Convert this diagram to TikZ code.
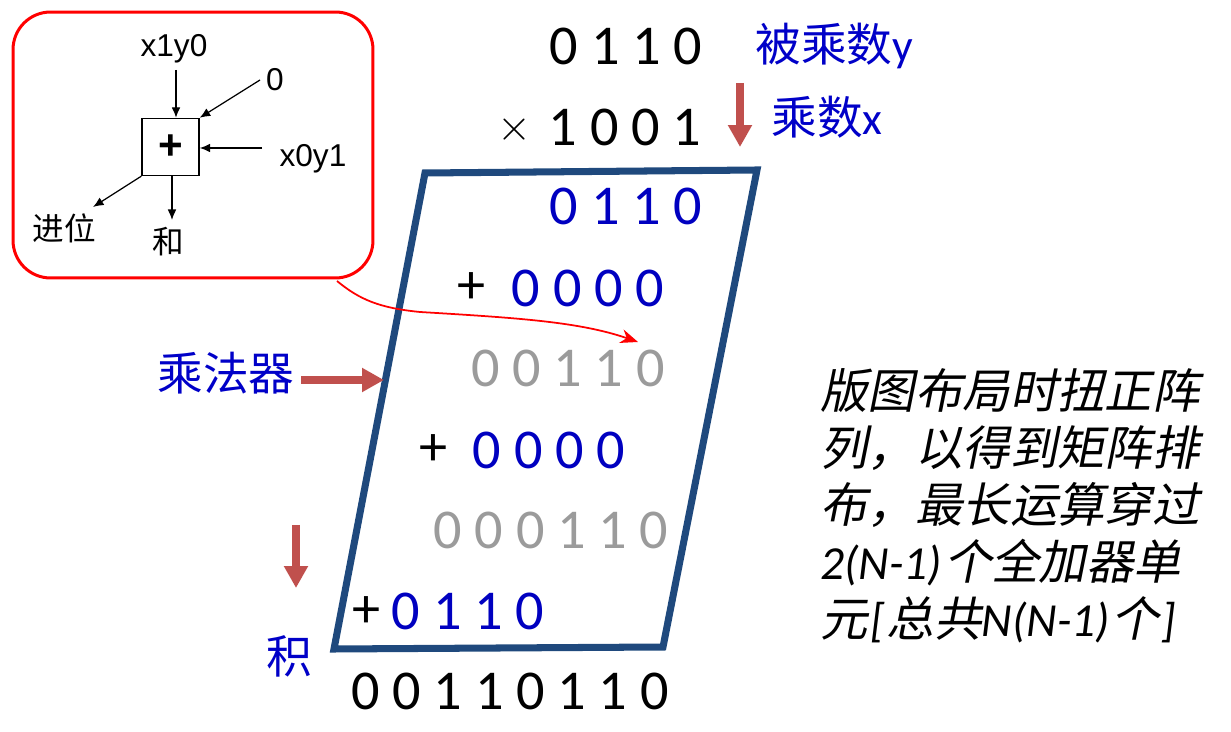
\documentclass[tikz,border=0pt]{standalone}
\usepackage{fontspec}
\setmainfont{Carlito}
\newfontfamily\cjk{Noto Sans CJK SC}
\newfontfamily\cjkit[FakeSlant=0.2]{Noto Sans CJK SC}
\newfontfamily\latit{Carlito}[ItalicFont=*-Italic]
\newfontfamily\arial{Liberation Sans}
\usetikzlibrary{arrows.meta}
\definecolor{frameblue}{RGB}{31,73,125}
\definecolor{lblblue}{RGB}{0,0,200}
\definecolor{digblue}{RGB}{0,0,192}
\definecolor{arrred}{RGB}{192,80,77}
\definecolor{digray}{RGB}{155,155,155}
\begin{document}
\begin{tikzpicture}[x=0.02cm,y=-0.02cm,
  dig/.style={inner sep=0pt, font=\fontsize{32}{38}\selectfont},
  plussign/.style={inner sep=0pt, font=\fontsize{32}{38}\selectfont},
  lbl/.style={inner sep=0pt, text=lblblue, font=\cjk\fontsize{26}{30}\selectfont, anchor=base west},
  note/.style={inner sep=0pt, anchor=base west, font=\cjkit\fontsize{27}{32}\selectfont},
  small/.style={inner sep=0pt, font=\arial\fontsize{18}{20}\selectfont},
  smallcjk/.style={inner sep=0pt, font=\cjk\fontsize{18}{20}\selectfont},
  sarrow/.style={-{Latex[length=6pt,width=5pt]}, line width=0.7pt},
  fatarrow/.style={arrred, line width=4.2pt, -{Triangle[length=12.5pt,width=13pt]}},
]
\useasboundingbox (0,0) rectangle (1231,732);

% ---------- callout with adder cell ----------
\node[draw=red, line width=1.7pt, rounded corners=0.75cm, minimum width=7.2cm,
      minimum height=5.32cm, inner sep=0pt] (callout) at (193,145) {};
\node[draw, line width=0.8pt, minimum size=1.14cm, inner sep=0pt,
      font=\arial\bfseries\fontsize{24}{24}\selectfont] (add) at (170.5,147) {+};
\node[small] (x1y0) at (174,49) {x1y0};
\node[small] (zero) at (275,80) {0};
\node[small] (x0y1) at (313,159) {x0y1};
\node[smallcjk] (carry) at (64,228) {进位};
\node[smallcjk] (sum) at (168,242) {和};
\coordinate (c1s) at (176,70);
\coordinate (c2s) at (260,80);
\coordinate (c3s) at (262,148);
\coordinate (c4e) at (93,207);
\coordinate (c5e) at (172,220);
\draw[sarrow] (c1s) -- (c1s |- add.north);
\draw[sarrow] (c2s) -- (add.north east);
\draw[sarrow] (c3s) -- (c3s -| add.east);
\draw[sarrow] (add.south west) -- (c4e);
\draw[sarrow] (add.south -| c5e) -- (c5e);

% ---------- parallelogram ----------
\draw[frameblue, line width=4pt] (425,173) -- (757,170) -- (663,647) -- (334,649) -- cycle;

% ---------- numbers ----------
\node[dig] (yrow) at (626,46) {0 1 1 0};
\node[inner sep=0pt, font=\fontsize{26}{26}\selectfont] (times) at (514,130) {$\times$};
\node[dig] (xrow) at (625,127) {1 0 0 1};
\node[dig, text=digblue] (p0) at (626,206) {0 1 1 0};
\node[plussign] (plus1) at (471,288) {+};
\node[dig, text=digblue] (p1) at (588,288) {0 0 0 0};
\node[dig, text=digray] (s1) at (568,368) {0 0 1 1 0};
\node[plussign] (plus2) at (433,450) {+};
\node[dig, text=digblue] (p2) at (549,450) {0 0 0 0};
\node[dig, text=digray] (s2) at (551,530) {0 0 0 1 1 0};
\node[plussign] (plus3) at (366,612) {+};
\node[dig, text=digblue] (p3) at (468,611) {0 1 1 0};
\node[dig] (prod) at (510,691) {0 0 1 1 0 1 1 0};

% ---------- blue labels ----------
\node[lbl] (ylbl) at (755,62) {被乘数{\rmfamily y}};
\node[lbl] (xlbl) at (771,135) {乘数{\rmfamily x}};
\node[lbl] (mlbl) at (157,391) {乘法器};
\node[lbl] (plbl) at (266,674) {积};

% ---------- fat red arrows ----------
\coordinate (a1s) at (740,83);
\coordinate (a1e) at (740,147);
\coordinate (a2s) at (296,525);
\coordinate (a2e) at (296,588);
\coordinate (a3s) at (301,380);
\coordinate (a3e) at (384,380);
\draw[fatarrow] (a1s) -- (a1e);
\draw[fatarrow] (a2s) -- (a2e);
\draw[fatarrow] (a3s) -- (a3e);

% ---------- thin red curve ----------
\coordinate (rs) at (337,281);
\coordinate (re) at (638,342);
\draw[red, line width=1pt, -{Stealth[length=10pt,width=8pt]}]
  (rs) .. controls (360,300) and (380,308) .. (420,312)
       .. controls (520,318) and (580,322) .. (re);

% ---------- note text ----------
\node[note] (n1) at (820,409) {版图布局时扭正阵};
\node[note] (n2) at (820,466) {列，以得到矩阵排};
\node[note] (n3) at (820,523) {布，最长运算穿过};
\node[note] (n4) at (820,580) {{\latit\itshape 2(N-1)}\kern1pt 个全加器单};
\node[note] (n5) at (820,637) {元\kern1.5pt{\latit\itshape [}\kern1pt 总共{\latit\itshape N(N-1)}\kern1pt 个\kern1.5pt{\latit\itshape ]}};
\end{tikzpicture}
\end{document}
